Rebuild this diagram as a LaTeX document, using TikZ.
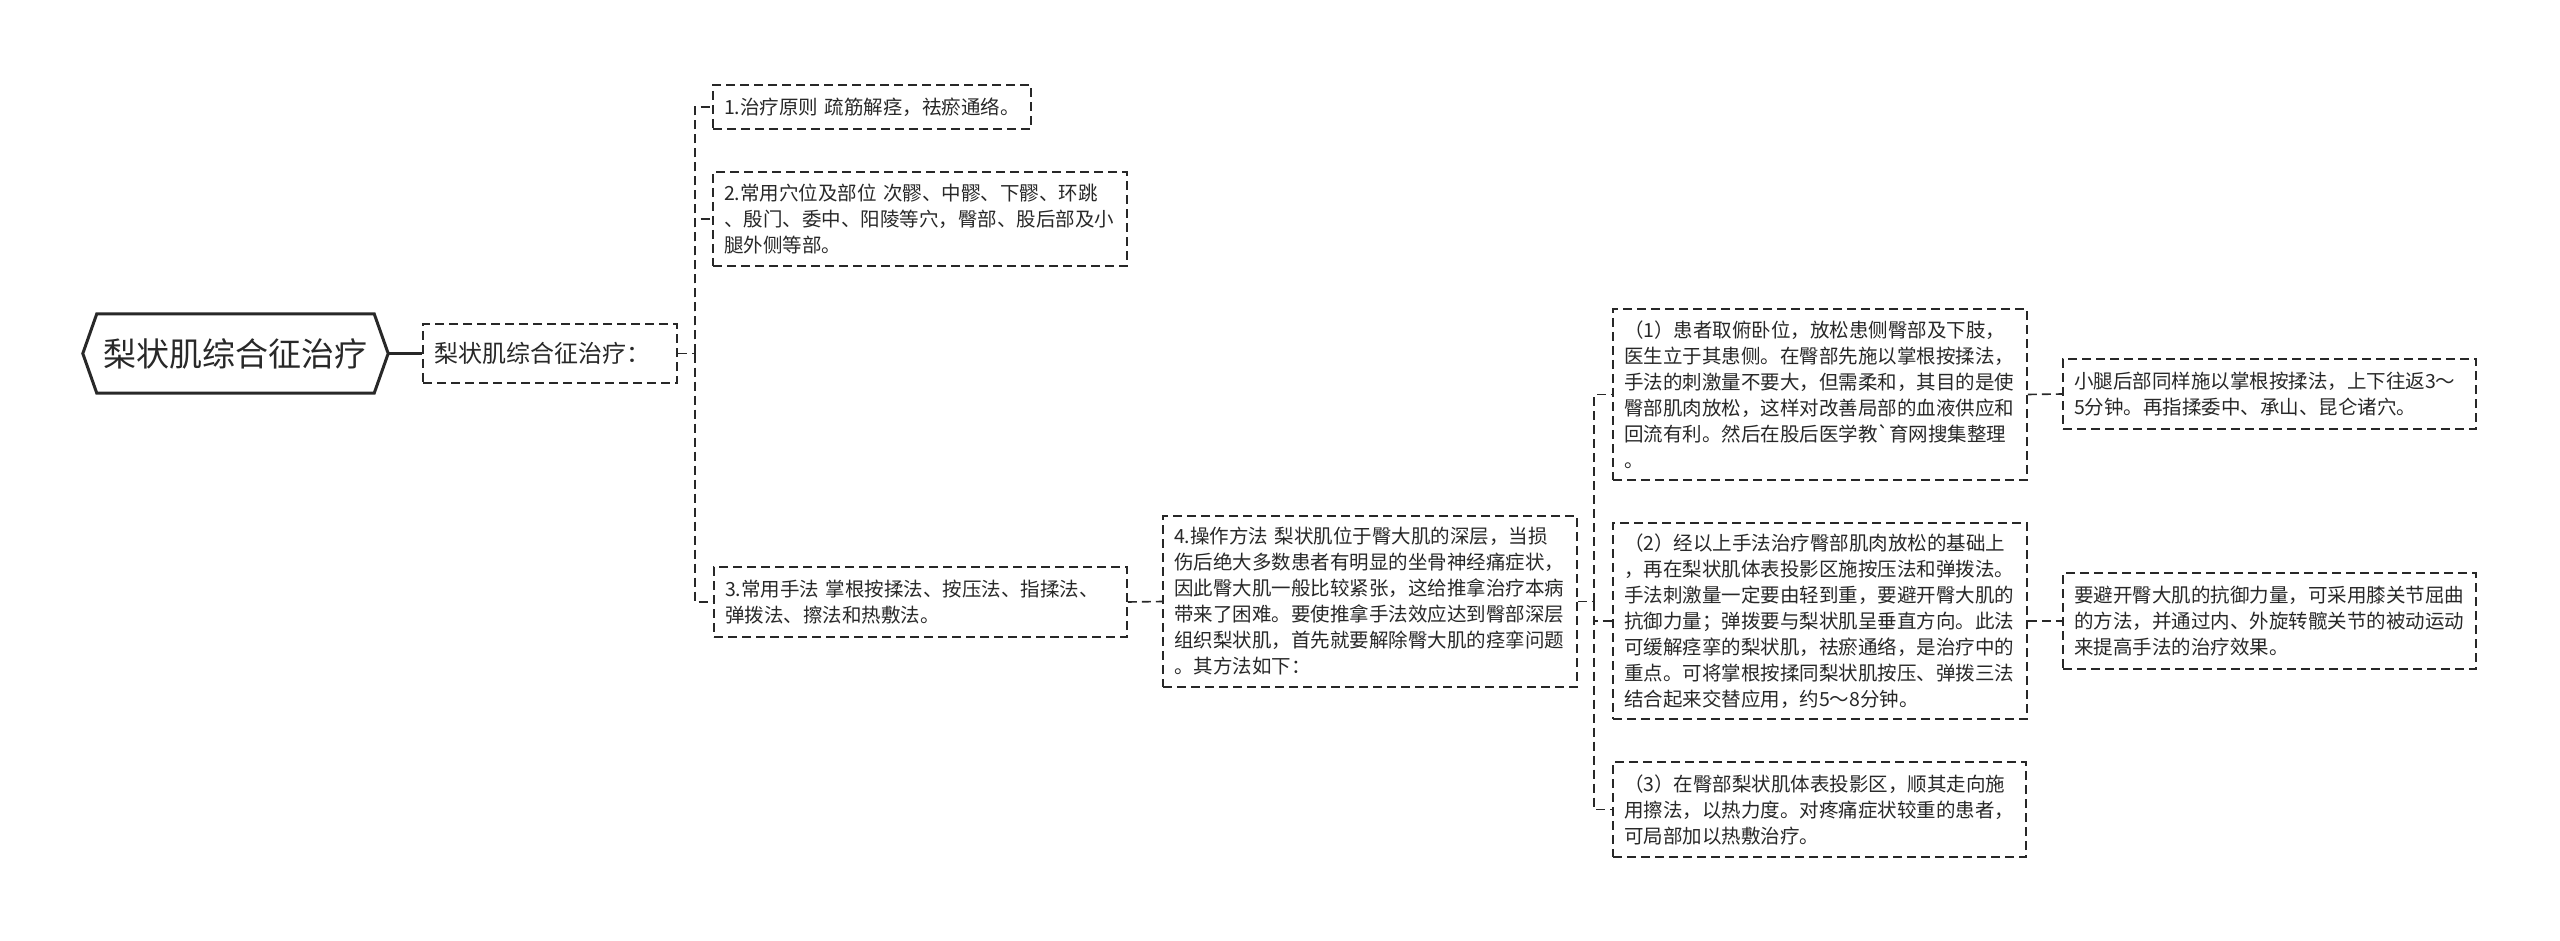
\documentclass[tikz,border=0pt]{standalone}
\usepackage{fontspec}
\setmainfont{Noto Sans CJK SC}
\newfontfamily\plainfont{Noto Sans CJK SC}
\definecolor{ink}{RGB}{40,40,40}
\tikzset{
  every node/.style={text=ink},
  box/.style={draw=ink, line width=1.8pt, dash pattern=on 9pt off 5pt, inner xsep=11pt, inner ysep=2pt,
     align=left, font=\fontsize{19.5}{26}\selectfont},
  conn/.style={draw=ink, line width=1.6pt, dash pattern=on 9pt off 5pt},
  rootline/.style={draw=ink, line width=3pt, line join=miter}
}
\begin{document}
\begin{tikzpicture}[x=1pt,y=-1pt]
\useasboundingbox (0,0) rectangle (2560,941);
% root
\node[minimum width=305pt, minimum height=79pt, inner sep=0pt, font=\fontsize{33}{40}\selectfont] (root) at (235.5,353.5) {梨状肌综合征治疗};
\draw[rootline] (root.west) -- ([xshift=14pt]root.north west) -- ([xshift=-14pt]root.north east) -- (root.east) -- ([xshift=-14pt]root.south east) -- ([xshift=14pt]root.south west) -- cycle;
% level 1
\node[box, font=\fontsize{24}{30}\selectfont, minimum width=254pt, minimum height=59pt, text width=232pt] (l1) at (550,353.5) {梨状肌综合征治疗：};
\draw[ink, line width=3pt] (root.east) -- (l1.west);
% items
\node[box, minimum width=318pt, minimum height=44pt, text width=296pt] (i1) at (872,107) {1.治疗原则~疏筋解痉，祛瘀通络。};
\node[box, minimum width=414pt, minimum height=94pt, text width=392pt] (i2) at (920,219) {2.常用穴位及部位~次髎、中髎、下髎、环跳\\、殷门、委中、阳陵等穴，臀部、股后部及小\\腿外侧等部。};
\node[box, minimum width=413pt, minimum height=70pt, text width=391pt] (i3) at (920.5,602) {3.常用手法~掌根按揉法、按压法、指揉法、\\弹拨法、擦法和热敷法。};
\node[box, minimum width=414pt, minimum height=171pt, text width=392pt] (i4) at (1370,601.5) {4.操作方法~梨状肌位于臀大肌的深层，当损\\伤后绝大多数患者有明显的坐骨神经痛症状，\\因此臀大肌一般比较紧张，这给推拿治疗本病\\带来了困难。要使推拿手法效应达到臀部深层\\组织梨状肌，首先就要解除臀大肌的痉挛问题\\。其方法如下：};
% sub steps
\node[box, minimum width=414pt, minimum height=171pt, text width=392pt] (s1) at (1820,394.5) {（1）患者取俯卧位，放松患侧臀部及下肢，\\医生立于其患侧。在臀部先施以掌根按揉法，\\手法的刺激量不要大，但需柔和，其目的是使\\臀部肌肉放松，这样对改善局部的血液供应和\\回流有利。然后在股后医学教{\plainfont\char96}育网搜集整理\\。};
\node[box, minimum width=414pt, minimum height=196pt, text width=392pt] (s2) at (1820,621) {（2）经以上手法治疗臀部肌肉放松的基础上\\，再在梨状肌体表投影区施按压法和弹拨法。\\手法刺激量一定要由轻到重，要避开臀大肌的\\抗御力量；弹拨要与梨状肌呈垂直方向。此法\\可缓解痉挛的梨状肌，祛瘀通络，是治疗中的\\重点。可将掌根按揉同梨状肌按压、弹拨三法\\结合起来交替应用，约5～8分钟。};
\node[box, minimum width=413pt, minimum height=95pt, text width=391pt] (s3) at (1819.5,809.5) {（3）在臀部梨状肌体表投影区，顺其走向施\\用擦法，以热力度。对疼痛症状较重的患者，\\可局部加以热敷治疗。};
% leaves
\node[box, minimum width=413pt, minimum height=70pt, text width=391pt] (f1) at (2269.5,394) {小腿后部同样施以掌根按揉法，上下往返3～\\5分钟。再指揉委中、承山、昆仑诸穴。};
\node[box, minimum width=413pt, minimum height=96pt, text width=391pt] (f2) at (2269.5,621) {要避开臀大肌的抗御力量，可采用膝关节屈曲\\的方法，并通过内、外旋转髋关节的被动运动\\来提高手法的治疗效果。};
% connectors
\coordinate (t1) at (695,353.5);
\coordinate (t2) at (1594,601.5);
\draw[conn] (l1.east) -- (t1);
\draw[conn] (t1) |- (i1.west);
\draw[conn] (t1) |- (i2.west);
\draw[conn] (t1) |- (i3.west);
\draw[conn] (i3.east) -- (i4.west);
\draw[conn] (i4.east) -- (t2);
\draw[conn] (t2) |- (s1.west);
\draw[conn] (t2) |- (s2.west);
\draw[conn] (t2) |- (s3.west);
\draw[conn] (s1.east) -- (f1.west);
\draw[conn] (s2.east) -- (f2.west);
\end{tikzpicture}
\end{document}
